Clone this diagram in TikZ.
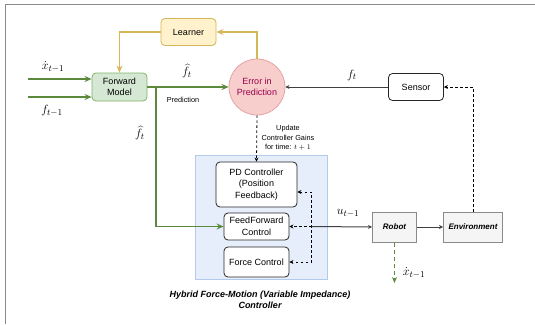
\documentclass[tikz,border=0pt]{standalone}
\usepackage{fontspec}
\setmainfont{Liberation Sans}
\usetikzlibrary{arrows.meta}

\definecolor{greenfill}{HTML}{D5E8D4}
\definecolor{greenline}{HTML}{82B366}
\definecolor{greenarrow}{HTML}{5B8A3C}
\definecolor{yellowfill}{HTML}{FFF2CC}
\definecolor{yellowline}{HTML}{D6B656}
\definecolor{redfill}{HTML}{F8CECC}
\definecolor{redline}{HTML}{E3A3A3}
\definecolor{errtext}{HTML}{99004D}
\definecolor{bluefill}{HTML}{E6EEFB}
\definecolor{blueline}{HTML}{B3CBEB}
\definecolor{grayfill}{HTML}{F5F5F5}
\definecolor{grayline}{HTML}{8A8A8A}

\begin{document}
\begin{tikzpicture}[x=1pt,y=-1pt,
    every node/.append style={font=\fontsize{9}{11.5}\selectfont, align=center, inner sep=1pt},
    block/.style={draw, rounded corners=4pt, line width=0.8pt},
    greenbox/.style={block, draw=greenline, fill=greenfill},
    yellowbox/.style={block, draw=yellowline, fill=yellowfill},
    plainbox/.style={block, draw=black!85, fill=white},
    robotbox/.style={draw=grayline, fill=grayfill, line width=1pt,
        font=\fontsize{8}{10}\selectfont\bfseries\itshape},
    lbl/.style={font=\fontsize{13}{15}\selectfont},
    small/.style={font=\fontsize{7.3}{9.5}\selectfont},
    greenflow/.style={draw=greenarrow, line width=1.6pt, -{Stealth[length=7pt,width=6pt]}},
    yellowflow/.style={draw=yellowline, line width=1.6pt, -{Stealth[length=7pt,width=6pt]}},
    signal/.style={draw=black!75, line width=1pt, -{Stealth[length=4pt,width=4pt]}},
    gain/.style={draw=black, line width=0.8pt, dash pattern=on 2.5pt off 2.5pt},
    ]
    \useasboundingbox (0,0) rectangle (535,324);
    \draw[grayline, line width=1pt] (5,324) -- (5,4) -- (535,4);

    % controller group
    \node[draw=blueline, fill=bluefill, line width=0.6pt,
        minimum width=132pt, minimum height=124pt] (hybrid) at (261,217) {};
    \node[plainbox, minimum width=81pt, minimum height=45pt] (pd) at (256.5,184.5)
        {PD Controller\\(Position\\Feedback)};
    \node[plainbox, minimum width=65pt, minimum height=27pt] (ff) at (256.5,226.5)
        {FeedForward\\Control};
    \node[plainbox, minimum width=65pt, minimum height=30pt] (force) at (256.5,262)
        {Force Control};
    \node[font=\fontsize{9}{11}\selectfont\bfseries\itshape] (caption) at (260,300)
        {Hybrid Force-Motion (Variable Impedance)\\Controller};

    \node[greenbox, minimum width=55pt, minimum height=28pt] (fwd) at (119.5,87) {Forward\\Model};
    \node[yellowbox, minimum width=55pt, minimum height=27pt] (learner) at (188.5,32) {Learner};
    \node[circle, draw=redline, fill=redfill, line width=0.8pt, minimum size=56pt,
        text=errtext] (err) at (257,87) {Error in\\Prediction};
    \node[plainbox, minimum width=55pt, minimum height=27pt] (sensor) at (416,87) {Sensor};
    \node[robotbox, minimum width=44pt, minimum height=30pt] (robot) at (394.5,227) {Robot};
    \node[robotbox, minimum width=59pt, minimum height=30pt] (env) at (473,227) {Environment};

    \coordinate (xin) at (28,79);
    \coordinate (fin) at (28,97);
    \coordinate (split) at (156,87);
    \coordinate (bus) at (311.5,192);
    \coordinate (xout) at (394.5,283);

    % learning loop
    \draw[yellowflow] (err.north) |- (learner.east);
    \draw[yellowflow] (learner.west) -| (fwd.north);
    \draw[greenflow] (xin) -- (fwd.west |- xin);
    \draw[greenflow] (fin) -- (fwd.west |- fin);
    \draw[greenflow] (fwd.east |- split) -- (err.west);
    \draw[greenflow] (split) |- (ff.west);
    \draw[signal] (sensor.west) -- (err.east);
    \draw[gain, -{Stealth[length=4pt,width=4pt]}] (env.north) |- (sensor.east);
    \draw[gain, -{Stealth[length=4pt,width=4pt]}] (err.south) -- (pd.north);

    % controller outputs
    \draw[gain, {Stealth[length=4pt,width=4pt]}-{Stealth[length=4pt,width=4pt]}]
        (pd.east |- bus) -| (bus |- force.east) -- (force.east);
    \draw[gain, -{Stealth[length=4pt,width=4pt]}] (bus |- ff.east) -- (ff.east);
    \draw[signal] (bus |- ff.east) -- (robot.west);
    \draw[signal] (robot.east) -- (env.west);
    \draw[draw=greenarrow, line width=1.3pt, dash pattern=on 4pt off 3pt,
        -{Stealth[length=6pt,width=5pt]}] (robot.south) -- (xout);

    \node[lbl] (xprev) at (53,67) {$\dot{x}_{t-1}$};
    \node[lbl] (fprev) at (52,111) {$f_{t-1}$};
    \node[lbl] (fhat) at (187,71) {$\widehat{f}_t$};
    \node[small] (predlbl) at (183,100) {Prediction};
    \node[lbl] (fhatff) at (140,133) {$\widehat{f}_t$};
    \node[lbl] (fnow) at (352,75) {$f_t$};
    \node[small] (update) at (288,138) {Update\\Controller Gains\\for time: $t+1$};
    \node[lbl] (uprev) at (348,213) {$u_{t-1}$};
    \node[lbl] (xrobot) at (414,273) {$\dot{x}_{t-1}$};
\end{tikzpicture}
\end{document}
